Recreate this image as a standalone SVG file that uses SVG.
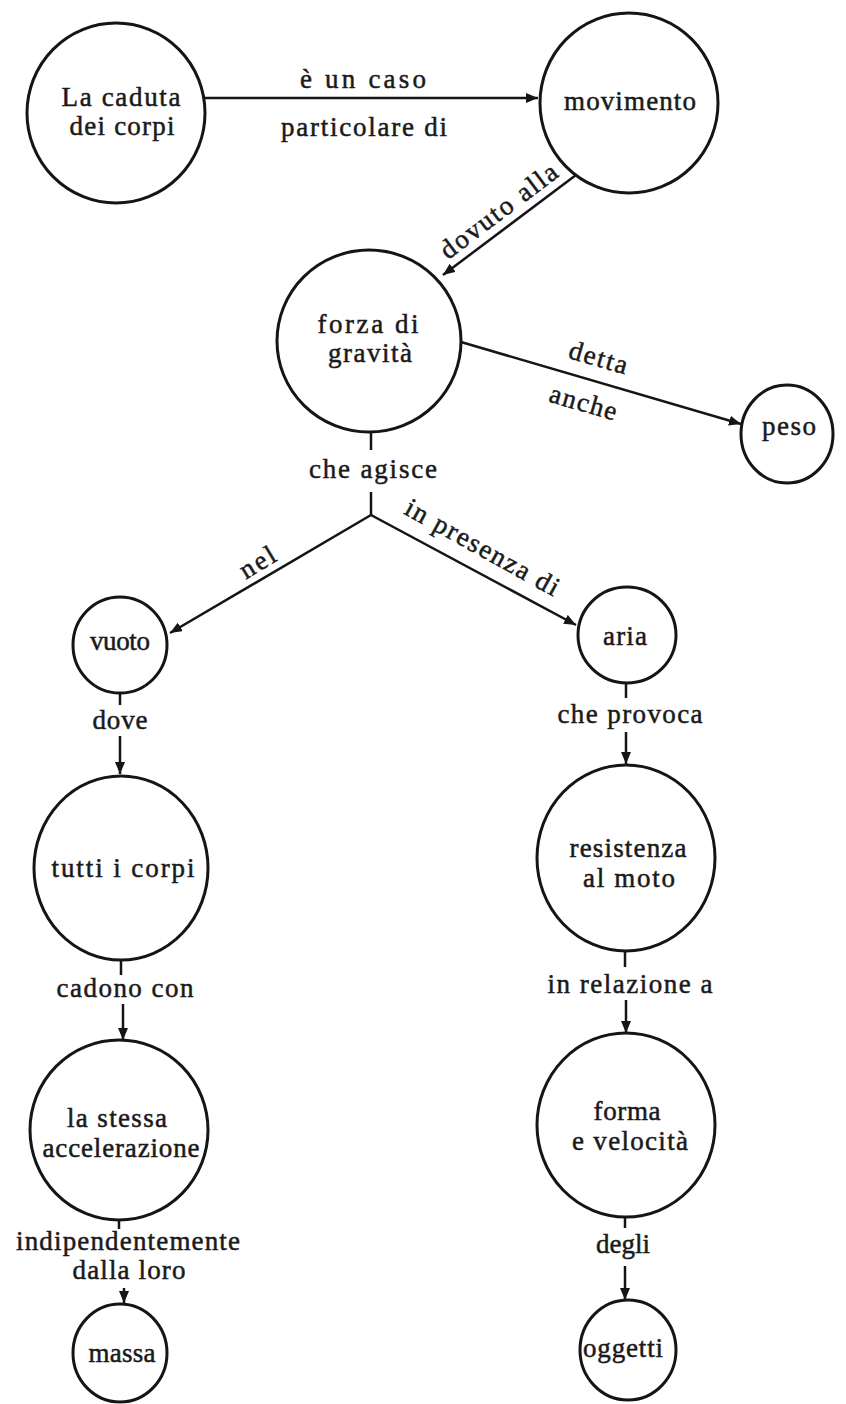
<svg xmlns="http://www.w3.org/2000/svg" width="846" height="1404" viewBox="0 0 846 1404">
  <style>
    .node ellipse { fill: #ffffff; stroke: #151515; stroke-width: 3; }
    text { font-family: "Liberation Serif", "DejaVu Serif", serif; font-size: 27px; fill: #1a1a1a; stroke: #1a1a1a; stroke-width: 0.5; text-anchor: middle; }
    .conn line { stroke: #151515; stroke-width: 2.5; fill: none; }
    .conn line.arrow { marker-end: url(#head); }
  </style>
  <defs>
    <marker id="head" viewBox="0 0 12 10" refX="12" refY="5" markerWidth="12" markerHeight="10" markerUnits="userSpaceOnUse" orient="auto">
      <path d="M0,0 L12,5 L0,10 Z" fill="#151515"/>
    </marker>
  </defs>
  <rect width="846" height="1404" fill="#ffffff"/>

  <!-- connectors and their labels -->
  <g id="connectors" class="conn">
    <line class="arrow" x1="205" y1="98" x2="538" y2="98"/>
    <text x="363" y="88" textLength="126" lengthAdjust="spacing">è un caso</text>
    <text x="364" y="136" textLength="166" lengthAdjust="spacing">particolare di</text>

    <line class="arrow" x1="576" y1="175" x2="443" y2="275"/>
    <text transform="translate(504,218) rotate(-37)" textLength="140" lengthAdjust="spacing">dovuto alla</text>

    <line class="arrow" x1="461" y1="342" x2="741" y2="424"/>
    <text transform="translate(596,366) rotate(16.2)" textLength="60" lengthAdjust="spacing">detta</text>
    <text transform="translate(581,411) rotate(16.2)" textLength="69" lengthAdjust="spacing">anche</text>

    <line x1="371" y1="431" x2="371" y2="450"/>
    <text x="373" y="478" textLength="128" lengthAdjust="spacing">che agisce</text>
    <line x1="371" y1="492" x2="371" y2="515"/>
    <line class="arrow" x1="371" y1="515" x2="170" y2="633"/>
    <text transform="translate(262,570) rotate(-31)" textLength="38" lengthAdjust="spacing">nel</text>
    <line class="arrow" x1="371" y1="515" x2="576" y2="625"/>
    <text transform="translate(478,555) rotate(29)" textLength="172" lengthAdjust="spacing">in presenza di</text>

    <line x1="120" y1="692" x2="120" y2="705"/>
    <text x="120" y="729" textLength="55" lengthAdjust="spacing">dove</text>
    <line class="arrow" x1="120" y1="736" x2="120" y2="774"/>

    <line x1="626" y1="682" x2="626" y2="698"/>
    <text x="630" y="723" textLength="145" lengthAdjust="spacing">che provoca</text>
    <line class="arrow" x1="626" y1="732" x2="626" y2="764"/>

    <line x1="121" y1="959" x2="121" y2="975"/>
    <text x="125" y="997" textLength="137" lengthAdjust="spacing">cadono con</text>
    <line class="arrow" x1="123" y1="1004" x2="123" y2="1040"/>

    <line x1="625" y1="950" x2="625" y2="967"/>
    <text x="630" y="993" textLength="165" lengthAdjust="spacing">in relazione a</text>
    <line class="arrow" x1="626" y1="1000" x2="626" y2="1033"/>

    <line x1="119" y1="1219" x2="119" y2="1229"/>
    <text x="128" y="1250" textLength="224" lengthAdjust="spacing">indipendentemente</text>
    <text x="129" y="1279" textLength="113" lengthAdjust="spacing">dalla loro</text>
    <line class="arrow" x1="124" y1="1288" x2="124" y2="1303"/>

    <line x1="625" y1="1216" x2="625" y2="1228"/>
    <text x="623" y="1253" textLength="54" lengthAdjust="spacing">degli</text>
    <line class="arrow" x1="625" y1="1266" x2="625" y2="1300"/>
  </g>

  <!-- concept nodes -->
  <g id="caduta" class="node">
    <ellipse cx="116" cy="113" rx="89" ry="90"/>
    <text x="121" y="106" textLength="119" lengthAdjust="spacing">La caduta</text>
    <text x="122" y="135" textLength="105" lengthAdjust="spacing">dei corpi</text>
  </g>
  <g id="movimento" class="node">
    <ellipse cx="629" cy="103" rx="89" ry="90"/>
    <text x="630" y="110" textLength="132" lengthAdjust="spacing">movimento</text>
  </g>
  <g id="forza" class="node">
    <ellipse cx="369" cy="341" rx="92" ry="91"/>
    <text x="368" y="333" textLength="101" lengthAdjust="spacing">forza di</text>
    <text x="370" y="362" textLength="84" lengthAdjust="spacing">gravità</text>
  </g>
  <g id="peso" class="node">
    <ellipse cx="787" cy="434" rx="46" ry="49"/>
    <text x="789" y="435" textLength="54" lengthAdjust="spacing">peso</text>
  </g>
  <g id="vuoto" class="node">
    <ellipse cx="120" cy="645" rx="47" ry="48"/>
    <text x="120" y="650" textLength="60" lengthAdjust="spacing">vuoto</text>
  </g>
  <g id="aria" class="node">
    <ellipse cx="627" cy="635" rx="49" ry="48"/>
    <text x="625" y="645" textLength="44" lengthAdjust="spacing">aria</text>
  </g>
  <g id="tutti" class="node">
    <ellipse cx="121" cy="868" rx="87" ry="92"/>
    <text x="123" y="877" textLength="143" lengthAdjust="spacing">tutti i corpi</text>
  </g>
  <g id="resistenza" class="node">
    <ellipse cx="626" cy="858" rx="89" ry="93"/>
    <text x="628" y="857" textLength="117" lengthAdjust="spacing">resistenza</text>
    <text x="629" y="887" textLength="92" lengthAdjust="spacing">al moto</text>
  </g>
  <g id="accelerazione" class="node">
    <ellipse cx="119" cy="1130" rx="89" ry="90"/>
    <text x="117" y="1127" textLength="100" lengthAdjust="spacing">la stessa</text>
    <text x="121" y="1157" textLength="157" lengthAdjust="spacing">accelerazione</text>
  </g>
  <g id="forma" class="node">
    <ellipse cx="626" cy="1125" rx="89" ry="92"/>
    <text x="627" y="1120" textLength="67" lengthAdjust="spacing">forma</text>
    <text x="630" y="1150" textLength="116" lengthAdjust="spacing">e velocità</text>
  </g>
  <g id="massa" class="node">
    <ellipse cx="120" cy="1353" rx="47" ry="49"/>
    <text x="122" y="1362" textLength="67" lengthAdjust="spacing">massa</text>
  </g>
  <g id="oggetti" class="node">
    <ellipse cx="628" cy="1350" rx="48" ry="50"/>
    <text x="623" y="1357" textLength="80" lengthAdjust="spacing">oggetti</text>
  </g>
</svg>
